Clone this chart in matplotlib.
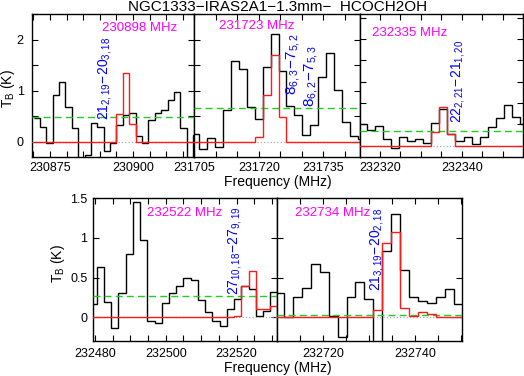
import numpy as np
import matplotlib
matplotlib.use('Agg')
import matplotlib.pyplot as plt
from matplotlib.ticker import MultipleLocator, FuncFormatter, NullFormatter

plt.rcParams['font.family'] = ['Liberation Sans', 'DejaVu Sans']
plt.rcParams['mathtext.fontset'] = 'custom'
plt.rcParams['mathtext.rm'] = 'Liberation Sans'
plt.rcParams['mathtext.it'] = 'Liberation Sans'
plt.rcParams['mathtext.bf'] = 'Liberation Sans:bold'

TITLE = 'NGC1333\u2212IRAS2A1\u22121.3mm\u2212  HCOCH2OH'

# --- panel 1: 230898 MHz ---
p1_start, p1_dch = 230870.08, 1.917
p1_obs = [0.46, 0.28, -0.03, 0.91, 1.17, 0.68, 0.26, -0.45, -0.26, 0.36, 0.28, -0.18, -0.02,
          0.32, 0.52, 0.57, 0.11, -0.02, 0.42, 0.57, 0.63, 0.81, 0.97, 0.26, -0.45, 0.13]
p1_mod = [0, 0, 0, 0, 0, 0, 0, 0, 0, 0, 0, 0, 0,
          0.55, 1.34, 0.34, 0, 0, 0, 0, 0, 0, 0, 0, 0, 0]
p1_rms = 0.49

# --- panel 2: 231723 MHz ---
p2_start, p2_dch = 231704.145, 1.855
p2_obs = [0.15, -0.15, 0.07, -0.10, 0.62, 1.58, 1.43, 0.68, 0.45, 1.46, 2.11, 1.38, 0.69,
          0.52, 0.13, 0.32, 1.27, 1.73, 1.02, 0.38, 0.11, 0.06]
p2_mod = [0, 0, 0, 0, 0, 0, 0, 0, 0.09, 0.91, 1.70, 0.49, 0,
          0, 0, 0, 0, 0, 0, 0, 0, 0]
p2_rms = 0.66

# --- panel 3: 232335 MHz ---
p3_start, p3_dch = 232314.75, 1.977
p3_obs = [0.10, 0.073, 0.092, 0.03, -0.01, 0.039, 0.023, 0.03, 0.011, 0.105, 0.17, 0.053,
          0.022, 0.04, 0.008, 0.039, 0.086, 0.13, 0.19, 0.133, 0.10]
p3_mod = [0, 0, 0, 0, 0, 0, 0, 0, 0, 0.062, 0.18, 0.053,
          0, 0, 0, 0, 0, 0, 0, 0, 0]
p3_rms = 0.069

# --- panel 4: 232522 MHz ---
p4_start, p4_dch = 232478.43, 2.043
p4_obs = [0.17, 0.63, 0.19, -0.14, 0.31, 0.80, 1.45, 0.98, -0.05, -0.07, 0.18, 0.30, 0.40,
          0.49, 0.47, 0.22, 0.06, -0.05, -0.11, 0.10, 0.225, 0.40, 0.36, 0.02, 0.08, 0.32]
p4_mod = [0, 0, 0, 0, 0, 0, 0, 0, 0, 0, 0, 0, 0,
          0, 0, 0, 0, 0, 0, 0, 0.02, 0.40, 0.58, 0.10, 0.10, 0.14]
p4_rms = 0.27

# --- panel 5: 232734 MHz ---
p5_start, p5_dch = 232709.47, 1.95
p5_obs = [0.31, 0.0, 0.25, 0.37, 0.67, 0.57, 0.01, -0.25, 0.25, 0.45, 0.23, -0.45, 0.83,
          1.30, 0.59, 0.25, 0.21, 0.18, 0.25, 0.35, 0.17]
p5_mod = [0, 0, 0, 0, 0, 0, 0, 0, 0, 0, 0, 0.09, 0.93,
          1.07, 0.12, 0.01, 0.07, 0.04, 0, 0, 0]
p5_rms = 0.03

W, H = 524, 376
fig = plt.figure(figsize=(W / 100, H / 100), dpi=100)


def rect(x0, x1, ytop, ybot):
    return [x0 / W, 1 - ybot / H, (x1 - x0) / W, (ybot - ytop) / H]


def draw_panel(ax, start, dch, obs, mod, rms, xlim, ylim, tag, tag_pos):
    edges = start + dch * np.arange(len(obs) + 1)
    ax.stairs(obs, edges, color='black', lw=1.0, baseline=None, zorder=2)
    ax.axhline(rms, color='#22cc22', ls=(0, (5, 3)), lw=1.0, zorder=3)
    ax.axhline(0, color='#aaaaaa', ls=':', lw=0.9, zorder=3)
    ax.stairs(mod, edges, color='#ff1a1a', lw=1.0, baseline=None, zorder=4)
    ax.set_xlim(*xlim)
    ax.set_ylim(*ylim)
    ax.text(tag_pos[0], tag_pos[1], tag, transform=ax.transAxes, color='#ff00ff',
            fontsize=9.5, ha='left', va='center')
    ax.tick_params(which='both', direction='in', top=True, right=True,
                   length=4, width=0.8, labelsize=9)
    for s in ax.spines.values():
        s.set_linewidth(1.0)
    ax.xaxis.set_major_formatter(FuncFormatter(lambda v, p: '%d' % round(v)))


def line_label(ax, x, y, txt, size=10):
    ax.text(x, y, txt, rotation=90, color='#0000ff', fontsize=size,
            ha='center', va='bottom', zorder=5)


yfmt = FuncFormatter(lambda v, p: '%g' % round(v, 2))

# top row
ax1 = fig.add_axes(rect(32, 194, 14, 157))
draw_panel(ax1, p1_start, p1_dch, p1_obs, p1_mod, p1_rms, (230869.6, 230918.3), (-0.3, 2.5),
           '230898 MHz', (0.43, 0.90))
ax1.xaxis.set_major_locator(MultipleLocator(25))
ax1.xaxis.set_minor_locator(MultipleLocator(5))
ax1.yaxis.set_major_locator(MultipleLocator(1))
ax1.yaxis.set_minor_locator(MultipleLocator(0.5))
ax1.yaxis.set_major_formatter(yfmt)
ax1.tick_params(axis='y', pad=6)
ax1.tick_params(axis='x', pad=3.5)
line_label(ax1, 230891.5, 0.42, r'$21_{2,19}\!-\!20_{3,18}$')
ax1.text(-0.15, 0.476, r'$T_{\rm B}$ (K)', transform=ax1.transAxes, rotation=90,
         fontsize=10, ha='center', va='center')

ax2 = fig.add_axes(rect(194, 360, 14, 157))
draw_panel(ax2, p2_start, p2_dch, p2_obs, p2_mod, p2_rms, (231704.9, 231743.5), (-0.3, 2.5),
           '231723 MHz', (0.152, 0.916))
ax2.xaxis.set_major_locator(MultipleLocator(15))
ax2.xaxis.set_minor_locator(MultipleLocator(5))
ax2.yaxis.set_major_locator(MultipleLocator(1))
ax2.yaxis.set_minor_locator(MultipleLocator(0.5))
ax2.yaxis.set_major_formatter(NullFormatter())
ax2.tick_params(axis='x', pad=3.5)
line_label(ax2, 231727.9, 0.91, r'$8_{6,3}\!-\!7_{5,2}$', 11)
line_label(ax2, 231732.0, 0.68, r'$8_{6,2}\!-\!7_{5,3}$', 11)

ax3 = fig.add_axes(rect(360, 523, 14, 157))
draw_panel(ax3, p3_start, p3_dch, p3_obs, p3_mod, p3_rms, (232315.1, 232355.0), (-0.053, 0.618),
           '232335 MHz', (0.072, 0.87))
ax3.xaxis.set_major_locator(MultipleLocator(20))
ax3.xaxis.set_minor_locator(MultipleLocator(5))
ax3.yaxis.set_major_locator(MultipleLocator(0.1))
ax3.yaxis.set_major_formatter(NullFormatter())
ax3.tick_params(axis='x', pad=3.5)
line_label(ax3, 232339.1, 0.105, r'$22_{2,21}\!-\!21_{1,20}$')

# bottom row
ax4 = fig.add_axes(rect(93.3, 277.3, 198.3, 341))
draw_panel(ax4, p4_start, p4_dch, p4_obs, p4_mod, p4_rms, (232479.52, 232531.5), (-0.3, 1.5),
           '232522 MHz', (0.29, 0.895))
ax4.xaxis.set_major_locator(MultipleLocator(20))
ax4.xaxis.set_minor_locator(MultipleLocator(5))
ax4.yaxis.set_major_locator(MultipleLocator(0.5))
ax4.yaxis.set_major_formatter(yfmt)
ax4.tick_params(axis='y', pad=4.2)
ax4.tick_params(axis='x', pad=5)
line_label(ax4, 232519.5, 0.28, r'$27_{10,18}\!-\!27_{9,19}$')
ax4.text(-0.19, 0.54, r'$T_{\rm B}$ (K)', transform=ax4.transAxes, rotation=90,
         fontsize=10, ha='center', va='center')

ax5 = fig.add_axes(rect(277.3, 462.3, 198.3, 341))
draw_panel(ax5, p5_start, p5_dch, p5_obs, p5_mod, p5_rms, (232709.96, 232750.35), (-0.3, 1.5),
           '232734 MHz', (0.096, 0.895))
ax5.xaxis.set_major_locator(MultipleLocator(20))
ax5.xaxis.set_minor_locator(MultipleLocator(5))
ax5.yaxis.set_major_locator(MultipleLocator(0.5))
ax5.yaxis.set_major_formatter(NullFormatter())
ax5.tick_params(axis='x', pad=5)
line_label(ax5, 232731.8, 0.325, r'$21_{3,19}\!-\!20_{2,18}$')

fig.text(278 / W, 1 - 182 / H, 'Frequency (MHz)', fontsize=10, ha='center', va='center')
fig.text(278 / W, 1 - 368 / H, 'Frequency (MHz)', fontsize=10, ha='center', va='center')
fig.text(277.5 / W, 1 - 10.7 / H, TITLE, fontsize=11, ha='center', va='baseline')

fig.savefig('out.png', dpi=100)
